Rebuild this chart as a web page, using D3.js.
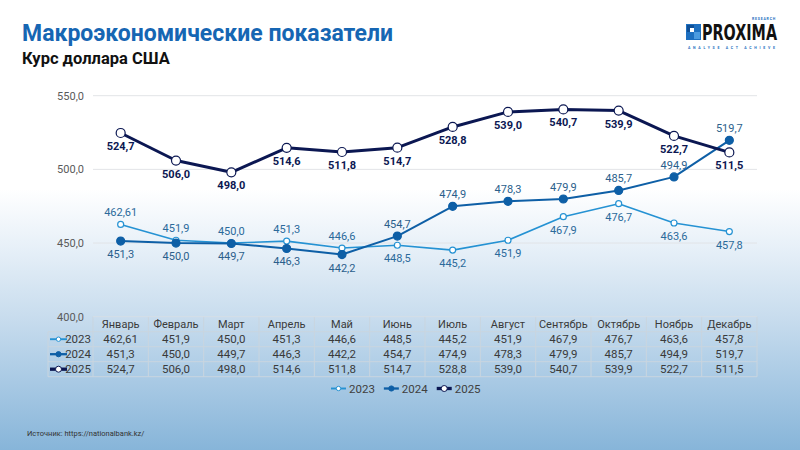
<!DOCTYPE html>
<html>
<head>
<meta charset="utf-8">
<script src="https://cdn.jsdelivr.net/npm/d3@7"></script>
<style>
  html, body { margin: 0; padding: 0; }
  body { width: 800px; height: 450px; overflow: hidden; font-family: Roboto, "Noto Sans", sans-serif; }
</style>
</head>
<body>
<div id="chart"></div>
<script>
const months = ["Январь", "Февраль", "Март", "Апрель", "Май", "Июнь", "Июль", "Август", "Сентябрь", "Октябрь", "Ноябрь", "Декабрь"];
const years = ["2023", "2024", "2025"];
const values2023 = [462.61, 451.9, 450.0, 451.3, 446.6, 448.5, 445.2, 451.9, 467.9, 476.7, 463.6, 457.8];
const values2024 = [451.3, 450.0, 449.7, 446.3, 442.2, 454.7, 474.9, 478.3, 479.9, 485.7, 494.9, 519.7];
const values2025 = [524.7, 506.0, 498.0, 514.6, 511.8, 514.7, 528.8, 539.0, 540.7, 539.9, 522.7, 511.5];
const labels2023 = ["462,61", "451,9", "450,0", "451,3", "446,6", "448,5", "445,2", "451,9", "467,9", "476,7", "463,6", "457,8"];
const yTicks = [400, 450, 500, 550];

const width = 800, height = 450;

const series = [
  { year: years[0], values: values2023, text: labels2023, line: "#2592d3", lw: 1.6, r: 3, kr: 2.2, fill: "#fff", stroke: "#2592d3",
    label: "#2b6a9b", bold: false, above: i => i < 5 },
  { year: years[1], values: values2024, line: "#0e5fa6", lw: 2, r: 4, kr: 2.6, fill: "#0e5fa6", stroke: "#0e5fa6",
    label: "#2b5f8c", bold: false, above: i => i >= 5 },
  { year: years[2], values: values2025, line: "#0b1752", lw: 3, r: 4.5, kr: 3, fill: "#fff", stroke: "#0b1752",
    label: "#0b1752", bold: true, above: i => false }
];

const fmt = v => d3.format(".1f")(v).replace(".", ",");
const labelOf = (s, i) => s.text ? s.text[i] : fmt(s.values[i]);

const svg = d3.select("#chart").append("svg")
  .attr("width", width)
  .attr("height", height);

// background
const defs = svg.append("defs");
const grad = defs.append("linearGradient")
  .attr("id", "bg")
  .attr("x1", 0).attr("y1", 0).attr("x2", 0).attr("y2", 1);
[[0, "#ffffff"], [0.42, "#ffffff"], [0.55, "#e7f0f8"], [0.7, "#c9ddee"], [0.85, "#a8c9e4"], [1, "#87b5d9"]]
  .forEach(([o, c]) => grad.append("stop").attr("offset", o).attr("stop-color", c));
svg.append("rect").attr("width", width).attr("height", height).attr("fill", "url(#bg)");

// titles
svg.append("text")
  .attr("x", 22).attr("y", 41)
  .attr("fill", "#1666b3")
  .attr("font-size", 23).attr("font-weight", 700)
  .text("Макроэкономические показатели");

svg.append("text")
  .attr("x", 22).attr("y", 64)
  .attr("fill", "#111")
  .attr("font-size", 16.5).attr("font-weight", 700)
  .text("Курс доллара США");

// logo
const logo = svg.append("g").attr("transform", "translate(686, 24)");
logo.append("rect").attr("width", 15).attr("height", 16).attr("fill", "#1d6fc0");
logo.append("rect").attr("x", 1).attr("y", 1).attr("width", 7).attr("height", 7).attr("fill", "#0f4f96");
logo.append("rect").attr("x", 8).attr("y", 8).attr("width", 6).attr("height", 7).attr("fill", "#4b9be0");
logo.append("rect").attr("x", 4).attr("y", 4).attr("width", 4).attr("height", 4).attr("fill", "#fff");
logo.append("text")
  .attr("x", 16).attr("y", 16)
  .attr("font-family", "'Liberation Sans Narrow', 'DejaVu Sans Condensed', sans-serif")
  .attr("font-size", 21).attr("font-weight", 700)
  .attr("fill", "#111")
  .attr("textLength", 75).attr("lengthAdjust", "spacingAndGlyphs")
  .text("PROXIMA");
logo.append("text")
  .attr("x", 90).attr("y", -4.5)
  .attr("text-anchor", "end")
  .attr("font-size", 3.5).attr("font-weight", 700)
  .attr("fill", "#1d6fc0")
  .attr("letter-spacing", 0.8)
  .text("RESEARCH");
logo.append("text")
  .attr("x", 2).attr("y", 25)
  .attr("font-size", 3.5).attr("font-weight", 700)
  .attr("fill", "#1d6fc0")
  .attr("textLength", 87).attr("lengthAdjust", "spacing")
  .text("ANALYSE    ACT    ACHIEVE");

// scales
const x = d3.scaleBand()
  .domain(months)
  .range([93, 757]);

const y = d3.scaleLinear()
  .domain([400, 550])
  .range([316.7, 95.7]);

// gridlines
svg.append("g")
  .selectAll("line")
  .data(yTicks.slice(1))
  .join("line")
  .attr("x1", 93).attr("x2", 757)
  .attr("y1", d => y(d)).attr("y2", d => y(d))
  .attr("stroke", "#e2e4e7").attr("stroke-width", 1);

// y axis labels
const yAxis = svg.append("g")
  .attr("transform", "translate(93, 0)")
  .call(d3.axisLeft(y).tickValues(yTicks).tickSize(0).tickPadding(9).tickFormat(fmt));
yAxis.select(".domain").remove();
yAxis.selectAll("text")
  .attr("font-family", "Roboto, sans-serif")
  .attr("font-size", 11)
  .attr("fill", "#5a5a5a");

// lines & markers
const cx = m => x(m) + x.bandwidth() / 2;

series.forEach(s => {
  const line = d3.line()
    .x((d, i) => cx(months[i]))
    .y(d => y(d));

  svg.append("path")
    .datum(s.values)
    .attr("fill", "none")
    .attr("stroke", s.line)
    .attr("stroke-width", s.lw)
    .attr("stroke-linejoin", "round")
    .attr("d", line);
});

series.forEach(s => {
  svg.append("g")
    .selectAll("circle")
    .data(s.values)
    .join("circle")
    .attr("cx", (d, i) => cx(months[i]))
    .attr("cy", d => y(d))
    .attr("r", s.r)
    .attr("fill", s.fill)
    .attr("stroke", s.stroke)
    .attr("stroke-width", 1.2);

  svg.append("g")
    .selectAll("text")
    .data(s.values)
    .join("text")
    .attr("x", (d, i) => cx(months[i]))
    .attr("y", (d, i) => s.above(i) ? y(d) - 8 : y(d) + 17)
    .attr("text-anchor", "middle")
    .attr("font-size", 11)
    .attr("font-weight", s.bold ? 700 : 400)
    .attr("fill", s.label)
    .text((d, i) => labelOf(s, i));
});

// data table
const rowTop = 316.7, rowH = 15;
const table = svg.append("g");
const tableLine = "#c9d5df";

months.forEach(m => {
  table.append("line")
    .attr("x1", x(m)).attr("x2", x(m))
    .attr("y1", rowTop).attr("y2", rowTop + rowH * 4)
    .attr("stroke", tableLine);
});
table.append("line")
  .attr("x1", 757).attr("x2", 757)
  .attr("y1", rowTop).attr("y2", rowTop + rowH * 4)
  .attr("stroke", tableLine);
table.append("line")
  .attr("x1", 48).attr("x2", 48)
  .attr("y1", rowTop + rowH).attr("y2", rowTop + rowH * 4)
  .attr("stroke", tableLine);
table.append("line")
  .attr("x1", 93).attr("x2", 757)
  .attr("y1", rowTop).attr("y2", rowTop)
  .attr("stroke", "#d6dee6");
[1, 2, 3, 4].forEach(k => {
  table.append("line")
    .attr("x1", 48).attr("x2", 757)
    .attr("y1", rowTop + rowH * k).attr("y2", rowTop + rowH * k)
    .attr("stroke", tableLine);
});

table.append("g")
  .selectAll("text")
  .data(months)
  .join("text")
  .attr("x", d => cx(d))
  .attr("y", rowTop + rowH / 2 + 4)
  .attr("text-anchor", "middle")
  .attr("font-size", 11)
  .attr("fill", "#3a3a3a")
  .text(d => d);

function drawKey(g, s, x0, x1) {
  const mid = (x0 + x1) / 2;
  g.append("line")
    .attr("x1", x0).attr("x2", x1)
    .attr("stroke", s.line).attr("stroke-width", s.lw + 0.3);
  g.append("circle")
    .attr("cx", mid).attr("r", s.kr)
    .attr("fill", s.fill).attr("stroke", s.stroke).attr("stroke-width", 1);
}

series.forEach((s, k) => {
  const cy = rowTop + rowH * (k + 1) + rowH / 2;
  const row = table.append("g").attr("transform", `translate(0, ${cy})`);
  drawKey(row, s, 50, 67);
  row.append("text")
    .attr("x", 91).attr("y", 4)
    .attr("text-anchor", "end")
    .attr("font-size", 11.5)
    .attr("fill", "#3a3a3a")
    .text(s.year);
  row.selectAll("text.v")
    .data(s.values)
    .join("text")
    .attr("class", "v")
    .attr("x", (d, i) => cx(months[i]))
    .attr("y", 4)
    .attr("text-anchor", "middle")
    .attr("font-size", 11.5)
    .attr("fill", "#3a3a3a")
    .text((d, i) => labelOf(s, i));
});

// legend
const legend = svg.append("g").attr("transform", "translate(331, 388.5)");
let lx = 0;
series.forEach(s => {
  const item = legend.append("g").attr("transform", `translate(${lx}, 0)`);
  drawKey(item, s, 0, 15);
  const t = item.append("text")
    .attr("x", 18).attr("y", 4)
    .attr("font-size", 11.5)
    .attr("fill", "#404040")
    .text(s.year);
  lx += 18 + t.node().getComputedTextLength() + 9;
});

// source
svg.append("text")
  .attr("x", 27).attr("y", 436)
  .attr("font-size", 7.5)
  .attr("fill", "#333")
  .text("Источник: https://nationalbank.kz/");
</script>
</body>
</html>
